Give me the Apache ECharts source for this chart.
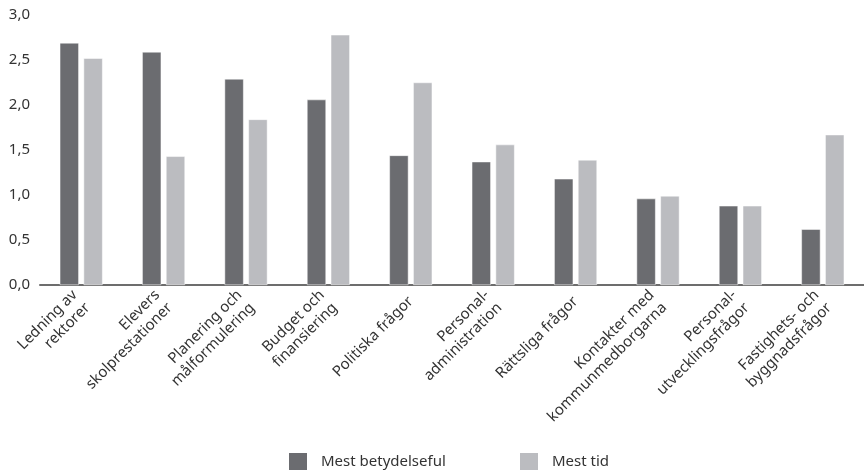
<!DOCTYPE html>
<html><head><meta charset="utf-8">
<script src="https://cdn.jsdelivr.net/npm/echarts@6/dist/echarts.min.js"></script>
<style>html,body{margin:0;padding:0;background:#fff}#c{width:864px;height:474px}</style>
</head><body><div id="c"></div>
<script>
var categories = ["Ledning av\nrektorer","Elevers\nskolprestationer","Planering och\nmålformulering","Budget och\nfinansiering","Politiska frågor","Personal-\nadministration","Rättsliga frågor","Kontakter med\nkommunmedborgarna","Personal-\nutvecklingsfrågor","Fastighets- och\nbyggnadsfrågor"];
var seriesNames = ["Mest betydelseful","Mest tid"];
var mestBetydelseful = [2.69,2.59,2.29,2.06,1.44,1.37,1.18,0.96,0.88,0.62];
var mestTid = [2.52,1.43,1.84,2.78,2.25,1.56,1.39,0.99,0.88,1.67];
var yTicks = [0,0.5,1,1.5,2,2.5,3];

var chart = echarts.init(document.getElementById('c'));
var font = "'Noto Sans', sans-serif";
var legendText = {fontFamily:font,fontSize:15,color:'#333',padding:[0,0,0,8]};
chart.setOption({
  animation:false,
  textStyle:{fontFamily:font},
  grid:{left:40,right:0,top:15,bottom:189,containLabel:false},
  legend:[
    {bottom:2,left:287,padding:0,itemWidth:20,itemHeight:19,icon:'rect',textStyle:legendText,data:[seriesNames[0]]},
    {bottom:2,left:518,padding:0,itemWidth:20,itemHeight:19,icon:'rect',textStyle:legendText,data:[seriesNames[1]]}
  ],
  xAxis:{
    type:'category',data:categories,
    axisLine:{lineStyle:{color:'#6d6d6d',width:2}},
    axisTick:{show:false},
    axisLabel:{interval:0,rotate:45,fontSize:15,color:'#333',fontFamily:font,lineHeight:18,margin:14,align:'right'}
  },
  yAxis:{
    type:'value',min:0,max:3,interval:0.5,
    axisLine:{show:false},axisTick:{show:false},splitLine:{show:false},
    axisLabel:{fontSize:15,color:'#333',fontFamily:font,margin:10,
      formatter:function(v){return v.toFixed(1).replace('.',',');}}
  },
  series:[
    {name:seriesNames[0],type:'bar',data:mestBetydelseful,barGap:'25%',barCategoryGap:'48%',
     itemStyle:{color:'#6b6c70',borderColor:'#ffffff',borderWidth:0.5}},
    {name:seriesNames[1],type:'bar',data:mestTid,
     itemStyle:{color:'#bbbcc0',borderColor:'#ffffff',borderWidth:0.5}}
  ]
});
</script></body></html>
